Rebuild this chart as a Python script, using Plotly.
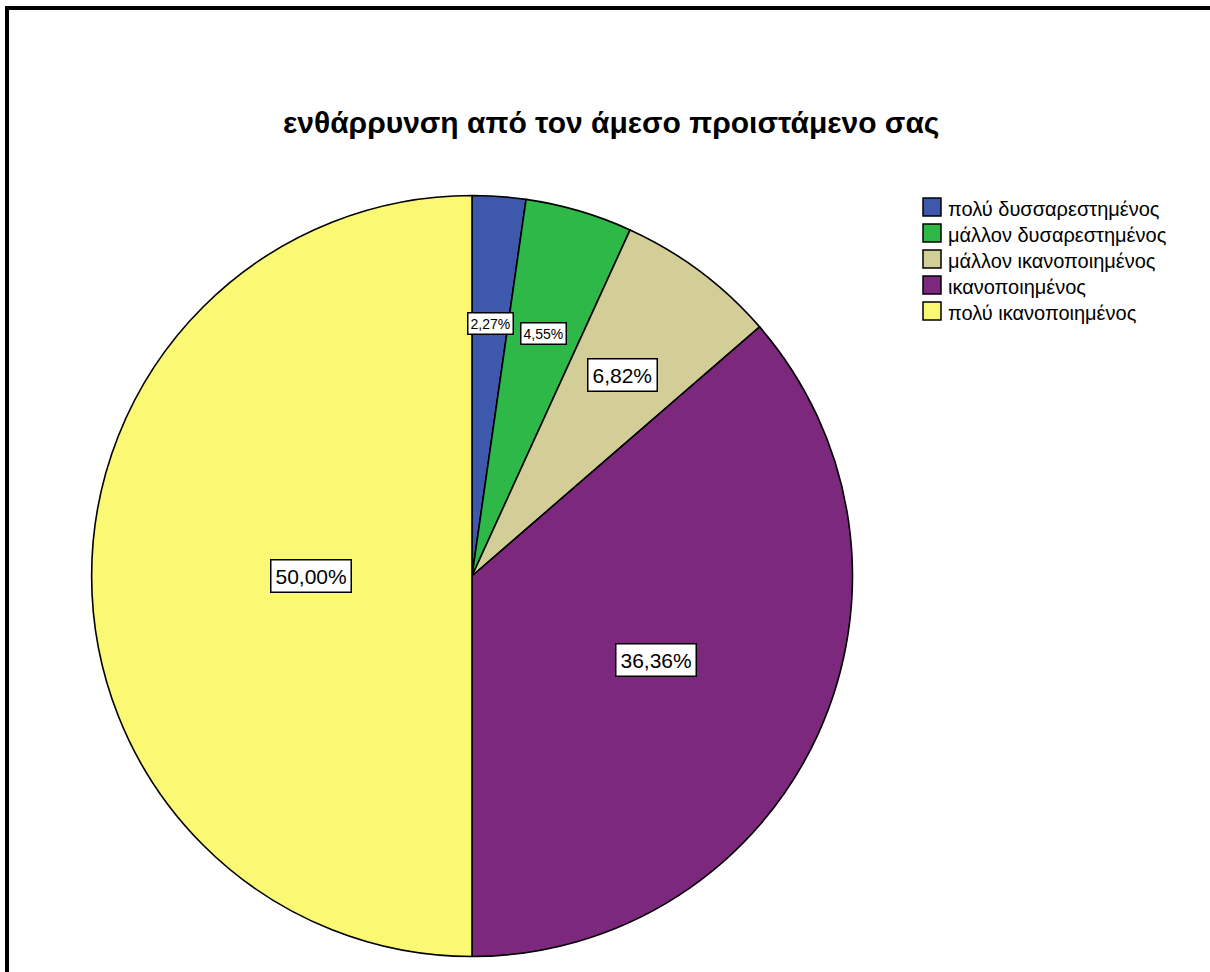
import math
import plotly.graph_objects as go

# Satisfaction categories and their shares (%)
categories = [
    "πολύ δυσσαρεστημένος",
    "μάλλον δυσαρεστημένος",
    "μάλλον ικανοποιημένος",
    "ικανοποιημένος",
    "πολύ ικανοποιημένος",
]
percentages = [2.27, 4.55, 6.82, 36.36, 50.00]
colors = ["#3E58AC", "#2EB848", "#D3CE97", "#7C287D", "#FBF873"]
title_text = "ενθάρρυνση από τον άμεσο προιστάμενο σας"

W, H = 1210, 972
FONT = "Liberation Sans, Arial, sans-serif"

# pie placement (pixels)
CX, CY, R = 472.0, 576.0, 380.5
dom_x = [(CX - R) / W, (CX + R) / W]
dom_y = [1 - (CY + R) / H, 1 - (CY - R) / H]

fig = go.Figure()
fig.add_trace(go.Pie(
    labels=categories,
    values=percentages,
    sort=False,
    direction="clockwise",
    rotation=0,
    marker=dict(colors=colors, line=dict(color="black", width=1.6)),
    textinfo="none",
    hoverinfo="label+percent",
    domain=dict(x=dom_x, y=dom_y),
    showlegend=False,
))

# value labels boxed at each slice's centroid
total = sum(percentages)
start = 0.0
annotations = []
for val in percentages:
    span = 2 * math.pi * val / total
    half = span / 2
    mid = start + half
    d = 2 * R * math.sin(half) / (3 * half)
    px = CX + d * math.sin(mid)
    py = CY - d * math.cos(mid)
    small = val < 5
    annotations.append(dict(
        x=px / W, y=1 - py / H, xref="paper", yref="paper",
        text=f"{val:.2f}%".replace(".", ","),
        showarrow=False,
        font=dict(family=FONT, size=14 if small else 21, color="black"),
        bgcolor="white", bordercolor="black", borderwidth=1.5,
        borderpad=2 if small else 4,
        xanchor="center", yanchor="middle",
    ))
    start += span

# legend drawn as swatches plus text
shapes = []
LX, LY0, STEP, SW = 923, 207, 26, 18
for i, (name, col) in enumerate(zip(categories, colors)):
    yc = LY0 + i * STEP
    shapes.append(dict(
        type="rect", xref="paper", yref="paper",
        x0=LX / W, x1=(LX + SW) / W,
        y0=1 - (yc + SW / 2) / H, y1=1 - (yc - SW / 2) / H,
        fillcolor=col, line=dict(color="black", width=1.5),
    ))
    annotations.append(dict(
        x=(LX + SW + 5) / W, y=1 - (yc + 2) / H, xref="paper", yref="paper",
        text=name, showarrow=False,
        font=dict(family=FONT, size=20, color="black"),
        xanchor="left", yanchor="middle",
    ))

# chart frame (top and left edges)
shapes.append(dict(
    type="path", xref="paper", yref="paper",
    path=f"M {7 / W},0 L {7 / W},{1 - 8 / H} L 1,{1 - 8 / H}",
    line=dict(color="black", width=4),
))

annotations.append(dict(
    x=611 / W, y=1 - 122 / H, xref="paper", yref="paper",
    text=f"<b>{title_text}</b>", showarrow=False,
    font=dict(family=FONT, size=30, color="black"),
    xanchor="center", yanchor="middle",
))

fig.update_layout(
    width=W, height=H,
    margin=dict(l=0, r=0, t=0, b=0),
    paper_bgcolor="white", plot_bgcolor="white",
    annotations=annotations, shapes=shapes,
)

fig.write_html("out.html")
